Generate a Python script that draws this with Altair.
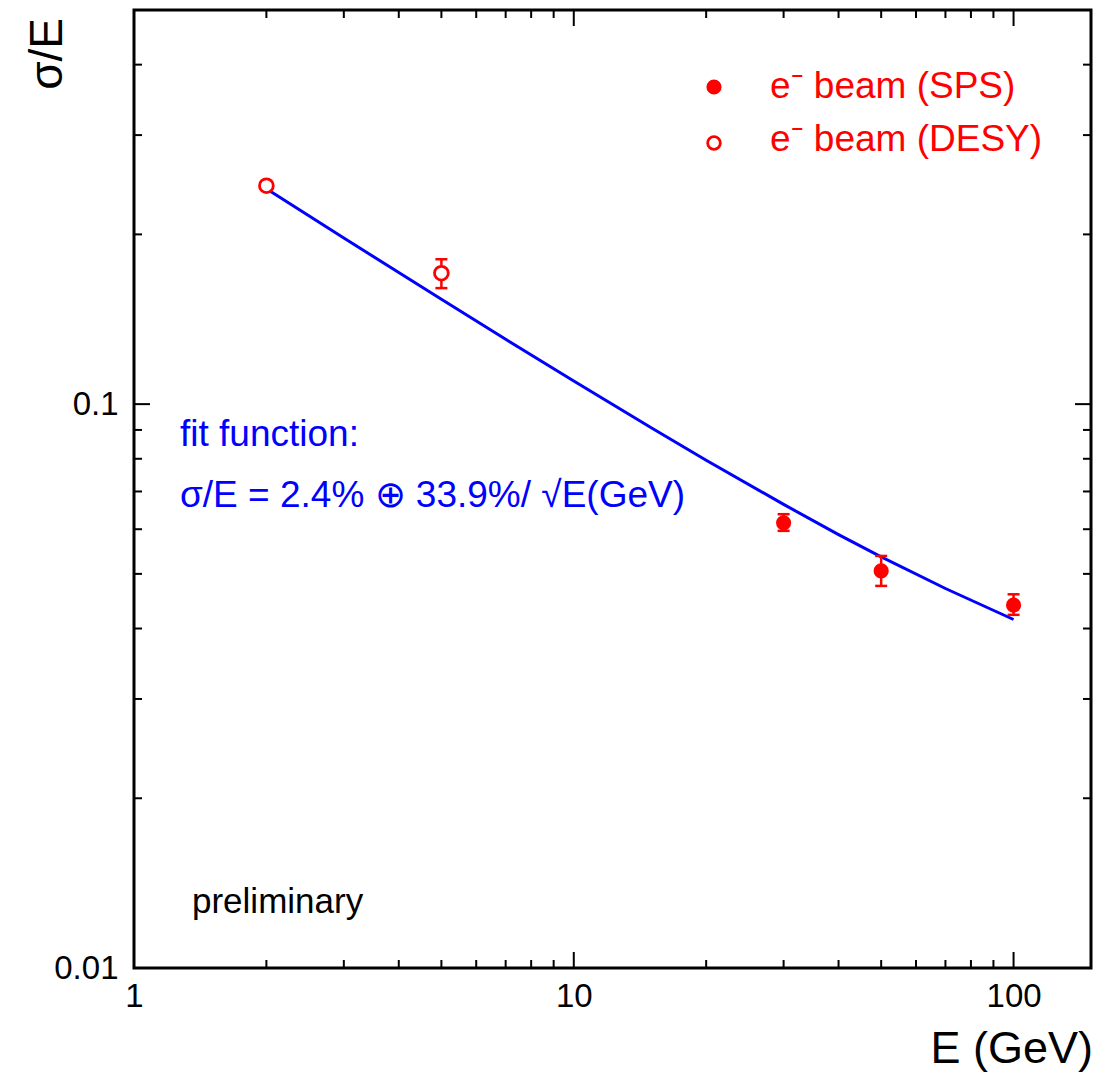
import altair as alt
import pandas as pd

W, H = 957, 958
RED = "#ff0000"
BLUE = "#0000ff"
FONT = "Liberation Sans"

# ---- data ----
sps_E = [30, 50, 100]
sps_y = [0.0616, 0.0506, 0.0440]
sps_lo = [0.0596, 0.0476, 0.0423]
sps_hi = [0.0638, 0.0538, 0.0460]

desy_E = [2, 5]
desy_y = [0.244, 0.1707]
desy_lo = [0.241, 0.1606]
desy_hi = [0.247, 0.1807]

fit_E = [2, 3, 4, 5, 7, 10, 15, 20, 30, 40, 50, 70, 100]
fit_y = [0.241, 0.197, 0.1712, 0.1535, 0.1303, 0.1099, 0.0908, 0.0795,
         0.0664, 0.0587, 0.0536, 0.0471, 0.0415]

x_labels = [1, 10, 100]
y_labels = [0.01, 0.1]
x_major = [10, 100]
x_minor = [2, 3, 4, 5, 6, 7, 8, 9, 20, 30, 40, 50, 60, 70, 80, 90]
y_major = [0.01, 0.1]
y_minor = [0.02, 0.03, 0.04, 0.05, 0.06, 0.07, 0.08, 0.09, 0.2, 0.3, 0.4]

legend_texts = ["e\u207b beam (SPS)", "e\u207b beam (DESY)"]
fit_texts = ["fit function:", "\u03c3/E = 2.4% \u2295 33.9%/ \u221aE(GeV)"]
prelim_text = ["preliminary"]
x_title = ["E (GeV)"]
y_title = ["\u03c3/E"]

xs = alt.Scale(type="log", domain=[1, 150], nice=False)
ys = alt.Scale(type="log", domain=[0.01, 0.5], nice=False)

sps = pd.DataFrame({"E": sps_E, "y": sps_y, "lo": sps_lo, "hi": sps_hi})
desy = pd.DataFrame({"E": desy_E, "y": desy_y, "lo": desy_lo, "hi": desy_hi})
fit = pd.DataFrame({"E": fit_E, "y": fit_y})

axis_common = dict(ticks=False, domain=False, grid=False, title=None,
                   labelFont=FONT, labelFontSize=33, labelColor="black",
                   labelFlush=False, labelOverlap=False, format="~g")
XA = alt.Axis(values=x_labels, labelPadding=12, **axis_common)
YA = alt.Axis(values=y_labels, labelPadding=16, **axis_common)


def X(f):
    return alt.X(f, scale=xs, axis=XA)


def Y(f):
    return alt.Y(f, scale=ys, axis=YA)


fit_line = alt.Chart(fit).mark_line(color=BLUE, strokeWidth=3).encode(x=X("E:Q"), y=Y("y:Q"))


def err_layers(df):
    bar = alt.Chart(df).mark_rule(color=RED, strokeWidth=2.5).encode(
        x=X("E:Q"), y=Y("lo:Q"), y2="hi:Q")
    cap_hi = alt.Chart(df).mark_rule(color=RED, strokeWidth=2.5, xOffset=-6, x2Offset=6).encode(
        x=X("E:Q"), x2="E:Q", y=Y("hi:Q"))
    cap_lo = alt.Chart(df).mark_rule(color=RED, strokeWidth=2.5, xOffset=-6, x2Offset=6).encode(
        x=X("E:Q"), x2="E:Q", y=Y("lo:Q"))
    return [bar, cap_hi, cap_lo]


sps_pts = alt.Chart(sps).mark_point(shape="circle", filled=True, color=RED, size=230, opacity=1).encode(
    x=X("E:Q"), y=Y("y:Q"))
desy_pts = alt.Chart(desy).mark_point(shape="circle", filled=False, fill="white", fillOpacity=1,
                                      color=RED, stroke=RED, strokeWidth=2.8, size=190, opacity=1).encode(
    x=X("E:Q"), y=Y("y:Q"))


def tick_layer(vals, axis_, side, length):
    df = pd.DataFrame({"t": vals})
    m = alt.Chart(df).mark_rule(color="black", strokeWidth=2)
    if axis_ == "x":
        y0 = H if side == "bottom" else 0
        y1 = H - length if side == "bottom" else length
        return m.encode(x=X("t:Q"), y=alt.value(y0), y2=alt.value(y1))
    x0 = 0 if side == "left" else W
    x1 = length if side == "left" else W - length
    return m.encode(y=Y("t:Q"), x=alt.value(x0), x2=alt.value(x1))


ticks = [
    tick_layer(x_major, "x", "bottom", 16), tick_layer(x_minor, "x", "bottom", 8),
    tick_layer(x_major, "x", "top", 16), tick_layer(x_minor, "x", "top", 8),
    tick_layer(y_major, "y", "left", 16), tick_layer(y_minor, "y", "left", 8),
    tick_layer(y_major, "y", "right", 16), tick_layer(y_minor, "y", "right", 8),
]


def text_layer(txt, x, y, size, color, align="left", angle=0):
    df = pd.DataFrame({"s": txt})
    kw = dict(align=align, baseline="alphabetic", font=FONT, fontSize=size, color=color)
    if angle:
        kw["angle"] = angle
    return alt.Chart(df).mark_text(**kw).encode(text="s:N", x=alt.value(x), y=alt.value(y))


leg_sym1 = alt.Chart(pd.DataFrame({"s": legend_texts[:1]})).mark_point(
    shape="circle", filled=True, color=RED, size=230, opacity=1).encode(x=alt.value(580), y=alt.value(77))
leg_sym2 = alt.Chart(pd.DataFrame({"s": legend_texts[1:]})).mark_point(
    shape="circle", filled=False, fill="white", fillOpacity=1, stroke=RED, strokeWidth=2.8,
    size=160, opacity=1).encode(x=alt.value(580), y=alt.value(133))

texts = [
    text_layer(legend_texts[:1], 636, 88, 37, RED),
    text_layer(legend_texts[1:], 636, 141, 37, RED),
    text_layer(fit_texts[:1], 46, 436, 37, BLUE),
    text_layer(fit_texts[1:], 46, 497, 37, BLUE),
    text_layer(prelim_text, 58, 903, 35, "black"),
    text_layer(x_title, 959, 1053, 45, "black", align="right"),
    text_layer(y_title, -72, 8, 46, "black", align="right", angle=270),
]

chart = alt.layer(
    fit_line, *err_layers(desy), *err_layers(sps), desy_pts, sps_pts,
    *ticks, leg_sym1, leg_sym2, *texts,
).properties(
    width=W, height=H,
    autosize=alt.AutoSizeParams(type="none"),
    padding={"left": 134, "top": 10, "right": 8, "bottom": 106},
    background="white",
).configure_view(
    stroke="black", strokeWidth=3
).configure_axis(
    labelFont=FONT, labelFontSize=33, labelColor="black", labelFlush=False, labelOverlap=False
)

chart.save("out.html", embed_options={"renderer": "svg", "actions": False})
